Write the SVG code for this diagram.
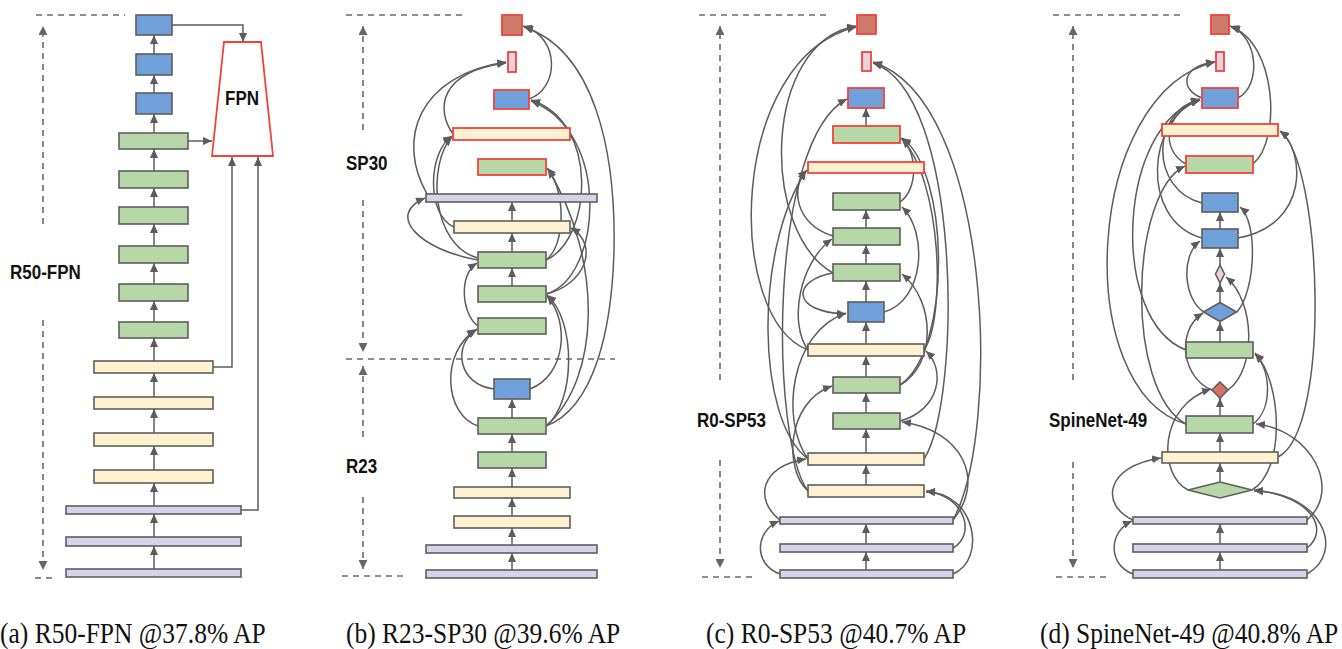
<svg xmlns="http://www.w3.org/2000/svg" width="1342" height="649" viewBox="0 0 1342 649">
<defs>
<marker id="ah" viewBox="0 0 9 8" refX="9" refY="4" markerWidth="9" markerHeight="8" markerUnits="userSpaceOnUse" orient="auto"><path d="M0,0 L9,4 L0,8 z" fill="#5c5c5c"/></marker>
<marker id="dh" viewBox="0 0 9 9" refX="9" refY="4.5" markerWidth="9" markerHeight="9" markerUnits="userSpaceOnUse" orient="auto"><path d="M0,0 L9,4.5 L0,9 z" fill="#666"/></marker>
</defs>
<style>
.n{stroke:#5e5e5e;stroke-width:1.6}
.r{stroke:#f2433a;stroke-width:1.8}
.bl{fill:#6fa0d9}
.gr{fill:#b8d7a9}
.ye{fill:#fdf1cf}
.pu{fill:#d8d3ea}
.tp{fill:#cc7a69}
.pk{fill:#e8d2de}
.rd{fill:#d7745f}
.c{fill:none;stroke:#5c5c5c;stroke-width:1.5;marker-end:url(#ah)}
.d{fill:none;stroke:#6a6a6a;stroke-width:1.6;stroke-dasharray:6 5}
.da{fill:none;stroke:#6a6a6a;stroke-width:1.6;stroke-dasharray:6 5;marker-end:url(#dh)}
.lb{font-family:"Liberation Sans",Arial,sans-serif;font-weight:bold;font-size:17px;fill:#111}
.cap{font-family:"Liberation Serif","Times New Roman",serif;font-size:25.5px;fill:#111}
</style>
<rect width="1342" height="649" fill="#fff"/>

<!-- scale guides -->
<g id="guides">
<path class="d" d="M36,15 H125"/>
<path class="da" d="M43,224 V26"/>
<path class="da" d="M43,320 V570"/>
<path class="d" d="M35,578 H55"/>
<path class="d" d="M346,15 H462"/>
<path class="da" d="M363,130 V26"/>
<path class="da" d="M363,200 V352"/>
<path class="d" d="M346,359 H615"/>
<path class="da" d="M363,437 V366"/>
<path class="da" d="M363,497 V569"/>
<path class="d" d="M342,576 H403"/>
<path class="d" d="M699,15 H831"/>
<path class="da" d="M720,380 V26"/>
<path class="da" d="M720,460 V568"/>
<path class="d" d="M702,577 H755"/>
<path class="d" d="M1053,15 H1185"/>
<path class="da" d="M1073,380 V26"/>
<path class="da" d="M1073,462 V568"/>
<path class="d" d="M1056,577 H1107"/>
</g>

<g id="labels">
<text class="lb" transform="translate(10,279) scale(1,1.15)">R50-FPN</text>
<text class="lb" transform="translate(346,170) scale(1,1.15)">SP30</text>
<text class="lb" transform="translate(346,473) scale(1,1.15)">R23</text>
<text class="lb" transform="translate(697,427) scale(1,1.15)">R0-SP53</text>
<text class="lb" transform="translate(1049,427) scale(1,1.15)">SpineNet-49</text>
<text class="cap" transform="translate(0,643) scale(1,1.17)">(a) R50-FPN @37.8% AP</text>
<text class="cap" transform="translate(346,643) scale(1,1.17)">(b) R23-SP30 @39.6% AP</text>
<text class="cap" transform="translate(706,643) scale(1,1.17)">(c) R0-SP53 @40.7% AP</text>
<text class="cap" transform="translate(1040,643) scale(1,1.17)">(d) SpineNet-49 @40.8% AP</text>
</g>

<!-- connectors -->
<g id="connectors">
<!-- (a) R50-FPN -->
<path class="c" d="M154,569 V546"/>
<path class="c" d="M154,537 V514"/>
<path class="c" d="M154,506 V483"/>
<path class="c" d="M154,470 V446"/>
<path class="c" d="M154,433 V409"/>
<path class="c" d="M154,397 V373"/>
<path class="c" d="M154,361 V338"/>
<path class="c" d="M154,322 V301"/>
<path class="c" d="M154,284 V263"/>
<path class="c" d="M154,246 V224"/>
<path class="c" d="M154,207 V188"/>
<path class="c" d="M154,171 V149"/>
<path class="c" d="M154,133 V114"/>
<path class="c" d="M154,93 V75"/>
<path class="c" d="M154,54 V35"/>
<path class="c" d="M172,25 H243 V42"/>
<path class="c" d="M188,141 H212"/>
<path class="c" d="M213,367 H232 V157"/>
<path class="c" d="M241,510 H258 V157"/>

<!-- (b) R23-SP30 -->
<path class="c" d="M512,570 V553"/>
<path class="c" d="M512,545 V528"/>
<path class="c" d="M512,516 V498"/>
<path class="c" d="M512,487 V468"/>
<path class="c" d="M512,452 V434"/>
<path class="c" d="M512,418 V399"/>
<path class="c" d="M512,286 V268"/>
<path class="c" d="M512,252 V233"/>
<path class="c" d="M512,221 V202"/>
<path class="c" d="M529,99 C558,90 562,38 523,26"/>
<path class="c" d="M546,426 C594,408 612,330 614,250 C616,150 594,50 524,27"/>
<path class="c" d="M478,260 C420,250 385,215 425,198"/>
<path class="c" d="M427,194 C396,140 418,75 506,62"/>
<path class="c" d="M453,134 C436,110 438,72 506,63"/>
<path class="c" d="M454,227 C426,215 428,152 452,136"/>
<path class="c" d="M478,258 C430,245 428,162 452,137"/>
<path class="c" d="M478,326 C462,315 458,275 477,263"/>
<path class="c" d="M494,389 C458,385 452,345 477,329"/>
<path class="c" d="M478,426 C444,415 440,352 476,330"/>
<path class="c" d="M546,260 C592,240 600,122 531,100"/>
<path class="c" d="M546,294 C602,278 612,132 531,101"/>
<path class="c" d="M546,260 C566,245 566,190 547,168"/>
<path class="c" d="M546,426 C600,380 604,262 548,169"/>
<path class="c" d="M546,294 C585,285 600,245 571,228"/>
<path class="c" d="M546,426 C576,402 576,320 547,295"/>
<path class="c" d="M530,389 C566,375 570,322 547,296"/>

<!-- (c) R0-SP53 -->
<path class="c" d="M866,126 V108"/>
<path class="c" d="M866,228 V210"/>
<path class="c" d="M866,264 V245"/>
<path class="c" d="M866,302 V281"/>
<path class="c" d="M866,344 V322"/>
<path class="c" d="M866,377 V356"/>
<path class="c" d="M866,413 V393"/>
<path class="c" d="M866,453 V429"/>
<path class="c" d="M866,485 V465"/>
<path class="c" d="M866,544 V524"/>
<path class="c" d="M866,570 V552"/>
<path class="c" d="M833,273 C760,232 762,42 856,26"/>
<path class="c" d="M808,350 C724,318 728,58 856,27"/>
<path class="c" d="M953,520 C1002,430 992,100 873,62"/>
<path class="c" d="M924,459 C962,400 962,92 873,63"/>
<path class="c" d="M808,491 C770,440 768,140 847,99"/>
<path class="c" d="M900,202 C918,190 918,152 901,138"/>
<path class="c" d="M900,385 C952,350 950,172 902,138"/>
<path class="c" d="M924,350 C946,318 942,182 902,139"/>
<path class="c" d="M833,236 C795,225 790,186 807,170"/>
<path class="c" d="M808,459 C756,420 754,250 806,171"/>
<path class="c" d="M884,312 C925,300 928,232 902,207"/>
<path class="c" d="M808,350 C788,322 800,262 832,239"/>
<path class="c" d="M900,385 C936,365 936,302 902,274"/>
<path class="c" d="M808,459 C780,420 790,332 846,313"/>
<path class="c" d="M833,273 C792,280 790,312 846,314"/>
<path class="c" d="M900,421 C940,410 946,370 926,351"/>
<path class="c" d="M808,491 C784,470 786,402 832,386"/>
<path class="c" d="M780,520 C754,500 760,466 806,459"/>
<path class="c" d="M953,548 C976,535 966,496 926,491"/>
<path class="c" d="M953,574 C987,560 976,492 926,492"/>
<path class="c" d="M953,520 C986,480 962,430 902,422"/>
<path class="c" d="M780,574 C754,565 754,532 779,521"/>

<!-- (d) SpineNet-49 -->
<path class="c" d="M1220,229 V212"/>
<path class="c" d="M1220,265 V248"/>
<path class="c" d="M1220,302 V283"/>
<path class="c" d="M1220,342 V322"/>
<path class="c" d="M1220,416 V398"/>
<path class="c" d="M1220,452 V433"/>
<path class="c" d="M1220,482 V463"/>
<path class="c" d="M1220,544 V524"/>
<path class="c" d="M1220,570 V552"/>
<path class="c" d="M1238,98 C1262,85 1258,36 1230,26"/>
<path class="c" d="M1253,164 C1282,140 1276,42 1231,27"/>
<path class="c" d="M1202,98 C1180,90 1180,66 1215,62"/>
<path class="c" d="M1186,424 C1070,390 1084,92 1215,62"/>
<path class="c" d="M1202,203 C1150,190 1150,112 1200,99"/>
<path class="c" d="M1202,238 C1138,220 1148,116 1200,100"/>
<path class="c" d="M1186,350 C1108,320 1118,122 1200,100"/>
<path class="c" d="M1186,164 C1160,150 1164,112 1200,100"/>
<path class="c" d="M1238,238 C1310,225 1305,150 1280,131"/>
<path class="c" d="M1278,457 C1332,430 1322,162 1280,131"/>
<path class="c" d="M1186,424 C1124,390 1130,192 1185,166"/>
<path class="c" d="M1204,312 C1184,300 1180,256 1200,241"/>
<path class="c" d="M1237,312 C1256,290 1258,222 1240,207"/>
<path class="c" d="M1228,390 C1256,370 1256,302 1226,277"/>
<path class="c" d="M1212,390 C1184,380 1174,332 1203,313"/>
<path class="c" d="M1188,490 C1158,475 1158,406 1211,389"/>
<path class="c" d="M1252,490 C1286,470 1282,382 1255,353"/>
<path class="c" d="M1253,424 C1272,410 1272,372 1255,354"/>
<path class="c" d="M1307,520 C1342,490 1312,430 1256,424"/>
<path class="c" d="M1133,520 C1100,505 1105,466 1161,458"/>
<path class="c" d="M1307,548 C1330,530 1312,496 1254,490"/>
<path class="c" d="M1307,574 C1346,552 1322,492 1254,491"/>
<path class="c" d="M1133,574 C1108,565 1108,532 1132,521"/>
</g>

<!-- (a) R50-FPN nodes -->
<g id="a-b1"><rect class="n bl" x="136" y="15" width="36" height="20"/></g>
<g id="a-b2"><rect class="n bl" x="136" y="54" width="36" height="21"/></g>
<g id="a-b3"><rect class="n bl" x="136" y="93" width="36" height="21"/></g>
<g id="a-g1"><rect class="n gr" x="119" y="133" width="69" height="16"/></g>
<g id="a-g2"><rect class="n gr" x="119" y="171" width="69" height="17"/></g>
<g id="a-g3"><rect class="n gr" x="119" y="207" width="69" height="17"/></g>
<g id="a-g4"><rect class="n gr" x="119" y="246" width="69" height="17"/></g>
<g id="a-g5"><rect class="n gr" x="119" y="284" width="69" height="17"/></g>
<g id="a-g6"><rect class="n gr" x="119" y="322" width="69" height="16"/></g>
<g id="a-y1"><rect class="n ye" x="94" y="361" width="119" height="12"/></g>
<g id="a-y2"><rect class="n ye" x="94" y="397" width="119" height="12"/></g>
<g id="a-y3"><rect class="n ye" x="94" y="433" width="119" height="13"/></g>
<g id="a-y4"><rect class="n ye" x="94" y="470" width="119" height="13"/></g>
<g id="a-p1"><rect class="n pu" x="66" y="506" width="175" height="8"/></g>
<g id="a-p2"><rect class="n pu" x="66" y="537" width="175" height="9"/></g>
<g id="a-p3"><rect class="n pu" x="66" y="569" width="175" height="8"/></g>
<g id="a-fpn"><polygon class="r" fill="#fff" points="224,42 261,42 273,156 212,156"/><text class="lb" transform="translate(242,105) scale(1,1.15)" text-anchor="middle">FPN</text></g>

<!-- (b) R23-SP30 nodes -->
<g id="b-out1"><rect class="r tp" x="502" y="15" width="20" height="20"/></g>
<g id="b-out2"><rect class="r pk" x="508" y="52" width="8" height="20"/></g>
<g id="b-out3"><rect class="r bl" x="494" y="90" width="35" height="19"/></g>
<g id="b-out4"><rect class="r ye" x="453" y="128" width="117" height="12"/></g>
<g id="b-out5"><rect class="r gr" x="478" y="159" width="68" height="16"/></g>
<g id="b-s1"><rect class="n pu" x="426" y="194" width="171" height="8"/></g>
<g id="b-s2"><rect class="n ye" x="454" y="221" width="116" height="12"/></g>
<g id="b-s3"><rect class="n gr" x="478" y="252" width="68" height="16"/></g>
<g id="b-s4"><rect class="n gr" x="478" y="286" width="68" height="16"/></g>
<g id="b-s5"><rect class="n gr" x="478" y="318" width="68" height="16"/></g>
<g id="b-r1"><rect class="n bl" x="494" y="379" width="36" height="20"/></g>
<g id="b-r2"><rect class="n gr" x="478" y="418" width="68" height="16"/></g>
<g id="b-r3"><rect class="n gr" x="478" y="452" width="68" height="16"/></g>
<g id="b-r4"><rect class="n ye" x="454" y="487" width="116" height="11"/></g>
<g id="b-r5"><rect class="n ye" x="454" y="516" width="116" height="12"/></g>
<g id="b-r6"><rect class="n pu" x="426" y="545" width="171" height="8"/></g>
<g id="b-r7"><rect class="n pu" x="426" y="570" width="171" height="8"/></g>

<!-- (c) R0-SP53 nodes -->
<g id="c-out1"><rect class="r tp" x="857" y="15" width="19" height="19"/></g>
<g id="c-out2"><rect class="r pk" x="862" y="52" width="9" height="19"/></g>
<g id="c-out3"><rect class="r bl" x="848" y="88" width="36" height="20"/></g>
<g id="c-out4"><rect class="r gr" x="833" y="126" width="67" height="17"/></g>
<g id="c-out5"><rect class="r ye" x="808" y="162" width="116" height="11"/></g>
<g id="c-s1"><rect class="n gr" x="833" y="193" width="67" height="17"/></g>
<g id="c-s2"><rect class="n gr" x="833" y="228" width="67" height="17"/></g>
<g id="c-s3"><rect class="n gr" x="833" y="264" width="67" height="17"/></g>
<g id="c-s4"><rect class="n bl" x="848" y="302" width="36" height="20"/></g>
<g id="c-s5"><rect class="n ye" x="808" y="344" width="116" height="12"/></g>
<g id="c-s6"><rect class="n gr" x="833" y="377" width="67" height="16"/></g>
<g id="c-s7"><rect class="n gr" x="833" y="413" width="67" height="16"/></g>
<g id="c-s8"><rect class="n ye" x="808" y="453" width="116" height="12"/></g>
<g id="c-s9"><rect class="n ye" x="808" y="485" width="116" height="12"/></g>
<g id="c-p1"><rect class="n pu" x="780" y="517" width="173" height="7"/></g>
<g id="c-p2"><rect class="n pu" x="780" y="544" width="173" height="8"/></g>
<g id="c-p3"><rect class="n pu" x="780" y="570" width="173" height="8"/></g>

<!-- (d) SpineNet-49 nodes -->
<g id="d-out1"><rect class="r tp" x="1211" y="15" width="18" height="19"/></g>
<g id="d-out2"><rect class="r pk" x="1216" y="52" width="8" height="19"/></g>
<g id="d-out3"><rect class="r bl" x="1202" y="88" width="36" height="20"/></g>
<g id="d-out4"><rect class="r ye" x="1162" y="124" width="116" height="12"/></g>
<g id="d-out5"><rect class="r gr" x="1186" y="156" width="67" height="17"/></g>
<g id="d-s1"><rect class="n bl" x="1202" y="193" width="36" height="19"/></g>
<g id="d-s2"><rect class="n bl" x="1202" y="229" width="36" height="19"/></g>
<g id="d-s3"><polygon class="n pk" points="1220,265 1224.5,274 1220,283 1215.5,274"/></g>
<g id="d-s4"><polygon class="n bl" points="1220,302.5 1236.5,312 1220,321.5 1203.5,312"/></g>
<g id="d-s5"><rect class="n gr" x="1186" y="342" width="67" height="16"/></g>
<g id="d-s6"><polygon class="n rd" points="1220,382 1228,390 1220,398 1212,390"/></g>
<g id="d-s7"><rect class="n gr" x="1186" y="416" width="67" height="17"/></g>
<g id="d-s8"><rect class="n ye" x="1162" y="452" width="116" height="11"/></g>
<g id="d-s9"><polygon class="n gr" points="1220,482 1252,490 1220,498 1188,490"/></g>
<g id="d-p1"><rect class="n pu" x="1133" y="517" width="174" height="7"/></g>
<g id="d-p2"><rect class="n pu" x="1133" y="544" width="174" height="8"/></g>
<g id="d-p3"><rect class="n pu" x="1133" y="570" width="174" height="8"/></g>
</svg>
